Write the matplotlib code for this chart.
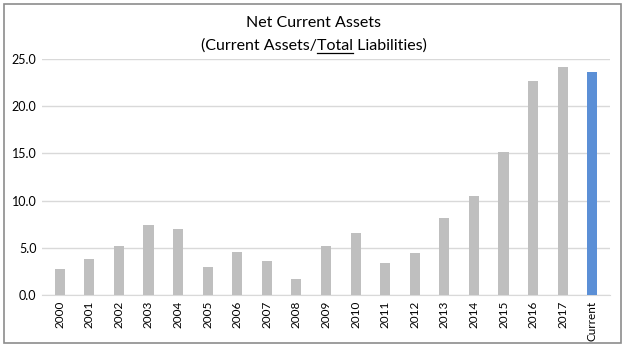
import matplotlib
matplotlib.use("Agg")
from matplotlib import pyplot as plt
from matplotlib.patches import Rectangle
from matplotlib.lines import Line2D

# data
labels = ["2000", "2001", "2002", "2003", "2004", "2005", "2006", "2007", "2008",
          "2009", "2010", "2011", "2012", "2013", "2014", "2015", "2016", "2017",
          "Current"]
values = [2.8, 3.8, 5.2, 7.4, 7.0, 3.0, 4.55, 3.6, 1.7,
          5.2, 6.6, 3.4, 4.5, 8.2, 10.5, 15.2, 22.7, 24.2, 23.65]
yticks = [0, 5, 10, 15, 20, 25]

font = "Lato"
plt.rcParams["font.family"] = [font, "DejaVu Sans"]

colors = ["#bfbfbf"] * (len(values) - 1) + ["#5b8fd6"]

fig = plt.figure(figsize=(6.27, 3.52), dpi=100)
ax = fig.add_axes([42 / 627, 1 - 295 / 352, (610 - 42) / 627, (295 - 59) / 352])

x = list(range(len(values)))
ax.bar(x, values, width=0.34, color=colors, zorder=3)

ax.set_ylim(0, 25)
ax.set_xlim(-0.6, len(values) - 0.4)
ax.set_yticks(yticks)
ax.set_yticklabels([f"{v:.1f}" for v in yticks], fontsize=9)
ax.set_xticks(x)
ax.set_xticklabels(labels, rotation=90, fontsize=8.5)
ax.tick_params(axis="both", length=0, pad=4, colors="#000000")
ax.grid(axis="y", color="#d9d9d9", linewidth=1, zorder=0)
for s in ["top", "right", "left"]:
    ax.spines[s].set_visible(False)
ax.spines["bottom"].set_color("#d9d9d9")

# title; second line measured in pieces so "Total" can be underlined
fig.text(0.5, 1 - 23 / 352, "Net Current Assets", ha="center", va="center",
         fontsize=11.5)
pieces = ["(Current Assets/", "Total", " Liabilities)"]
r = fig.canvas.get_renderer()
y2 = 1 - 50 / 352


def width_of(s):
    t = fig.text(0, y2, s, fontsize=11.5)
    w = t.get_window_extent(r).width
    t.remove()
    return w / fig.bbox.width


total_w = width_of("".join(pieces))
w0 = width_of(pieces[0])
w01 = width_of(pieces[0] + pieces[1])
x0 = 0.5 - total_w / 2
fig.text(x0, y2, "".join(pieces), fontsize=11.5, va="baseline")
uy = y2 - 3 / 352
fig.lines.append(Line2D([x0 + w0, x0 + w01], [uy, uy], transform=fig.transFigure,
                        color="black", linewidth=0.9))

fig.patches.append(Rectangle((4 / 627, 1 - 343 / 352), 617 / 627, 339 / 352,
                             transform=fig.transFigure, fill=False,
                             edgecolor="#8c8c8c", linewidth=1.2))

fig.savefig("out.png", dpi=100)
